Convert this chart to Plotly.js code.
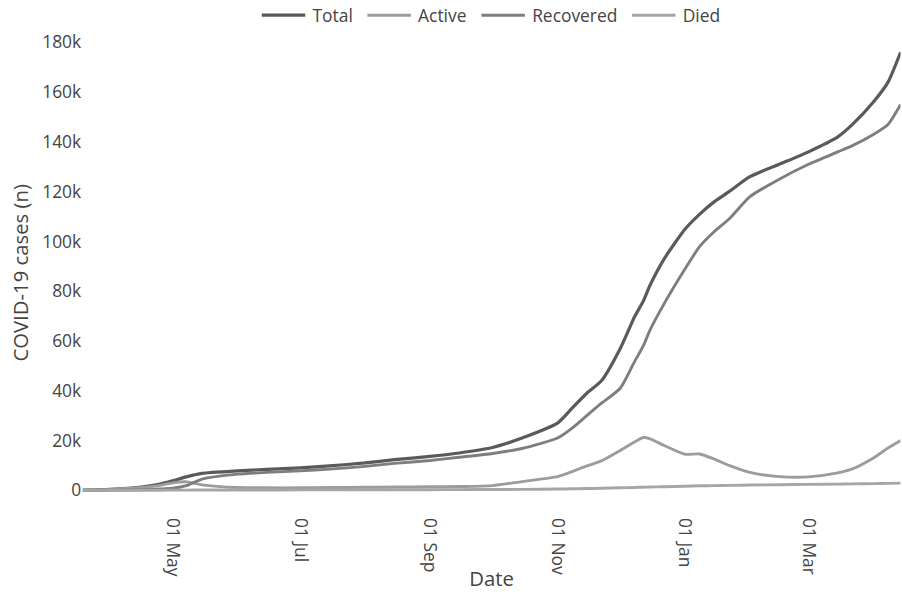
<!DOCTYPE html>
<html>
<head>
<meta charset="utf-8">
<script src="https://cdn.plot.ly/plotly-3.0.1.min.js"></script>
<style>
html,body{margin:0;padding:0;background:#fff;overflow:hidden;width:902px;height:592px;}
#chart{width:622px;height:408px;transform:scale(1.4502,1.451);transform-origin:0 0;}
</style>
</head>
<body>
<div id="chart"></div>
<script>
const dates = ["2020-03-19","2020-04-01","2020-04-15","2020-04-25","2020-05-01","2020-05-08","2020-05-15",
  "2020-06-01","2020-06-15","2020-07-01","2020-07-15","2020-08-01","2020-08-15","2020-09-01","2020-09-15",
  "2020-10-01","2020-10-15","2020-11-01","2020-11-08","2020-11-15","2020-11-22","2020-12-01","2020-12-08",
  "2020-12-12","2020-12-15","2020-12-22","2021-01-01","2021-01-08","2021-01-15","2021-01-22","2021-02-01",
  "2021-02-15","2021-03-01","2021-03-15","2021-03-22","2021-04-01","2021-04-08","2021-04-14"];

const total = [50,400,1200,2500,3800,5500,6800,
  7800,8400,9000,9800,11000,12300,13600,15000,
  17200,21000,27000,33000,39000,44000,57000,70000,
  76000,82000,93000,105000,111000,116000,120000,126000,
  131000,136000,142000,147000,156000,164000,176000];

const active = [50,350,1000,2000,3000,3400,2200,
  1100,1000,1000,1100,1200,1300,1400,1500,
  1900,3500,5500,7500,9800,11800,16000,19500,
  21200,20800,18000,14500,14600,12500,10000,7200,
  5500,5400,7000,8600,13000,17000,20000];

const recovered = [0,50,200,500,800,2000,4500,
  6500,7200,7800,8500,9600,10800,12000,13300,
  14800,16800,21000,25000,30000,35000,41000,52000,
  58000,64000,75000,89000,98000,104000,109000,118000,
  125000,131000,136000,138500,143000,147000,155000];

const died = [0,10,30,50,70,80,100,
  120,140,160,180,200,220,250,280,
  320,380,500,600,700,800,1000,1150,
  1250,1300,1450,1650,1800,1900,2000,2100,
  2250,2400,2500,2600,2700,2800,2900];

const seriesNames = ["Total","Active","Recovered","Died"];
const seriesValues = [total, active, recovered, died];
const seriesColors = ["#5a5a5a","#9c9c9c","#7e7e7e","#a6a6a6"];
const seriesWidths = [2.2, 2, 2, 2];

const traces = seriesNames.map((n,i)=>({
  type:"scatter", mode:"lines", name:n, x:dates, y:seriesValues[i],
  line:{color:seriesColors[i], width:seriesWidths[i], shape:"spline", smoothing:0.6}
}));

const layout = {
  width:622, height:408,
  margin:{l:57, r:1, t:23, b:55, autoexpand:false},
  paper_bgcolor:"#fff", plot_bgcolor:"#fff",
  font:{family:"Open Sans, sans-serif", size:12, color:"#444"},
  showlegend:true,
  legend:{orientation:"h", x:0.5, xanchor:"center", y:1.038, yanchor:"middle", font:{size:12}},
  xaxis:{
    type:"date", range:["2020-03-19","2021-04-14"],
    showgrid:false, zeroline:false, showline:false,
    tick0:"2020-01-01", dtick:"M2", tickformat:"%d %b", tickangle:90,
    ticklabelstandoff:3,
    title:{text:"Date", font:{size:14}}
  },
  yaxis:{
    range:[-8800,183600], showgrid:false, zeroline:false, showline:false,
    dtick:20000, tickformat:"~s",
    title:{text:"COVID-19 cases (n)", font:{size:14}}
  }
};

Plotly.newPlot("chart", traces, layout, {displayModeBar:false, staticPlot:true});
</script>
</body>
</html>
